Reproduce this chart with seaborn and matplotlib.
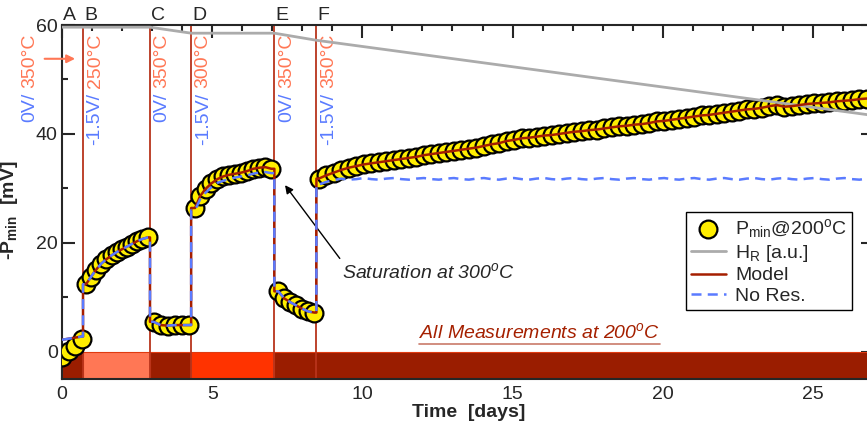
import numpy as np
import pandas as pd
import seaborn as sns
import matplotlib.pyplot as plt
from matplotlib.ticker import MultipleLocator

# condition switches (days) and labels of each step
switch_days = [0.70, 2.93, 4.30, 7.07, 8.47]
step_letters = ['A', 'B', 'C', 'D', 'E', 'F']
step_volts = ['0V/', '-1.5V/', '0V/', '-1.5V/', '0V/', '-1.5V/']
step_temps = ['350°C', '250°C', '350°C', '300°C', '350°C', '350°C']
label_x = [-1.08, 1.10, 3.33, 4.70, 7.47, 8.87]

# anneal temperature bands along the bottom
band_start = [0.0, 0.70, 2.93, 4.30, 7.07]
band_end = [0.70, 2.93, 4.30, 7.07, 27.0]
band_colors = ['#9A1D00', '#FF7755', '#9A1D00', '#FF3300', '#9A1D00']

# measured -Pmin (mV) per step
days_a = [0.00, 0.22, 0.44, 0.66]
pmin_a = [-0.9, 0.1, 1.0, 2.4]
model_a = [2.2, 2.4, 2.6, 2.8]

days_b = [0.80, 0.97, 1.14, 1.31, 1.48, 1.65, 1.82, 1.99, 2.16, 2.33, 2.50, 2.67, 2.86]
pmin_b = [12.4, 13.8, 15.1, 16.2, 17.0, 17.7, 18.3, 18.8, 19.3, 19.8, 20.3, 20.7, 21.0]

days_c = [3.05, 3.28, 3.52, 3.76, 4.00, 4.22]
pmin_c = [5.5, 4.9, 4.8, 4.9, 4.9, 4.9]

days_d = [4.43, 4.60, 4.78, 4.97, 5.17, 5.37, 5.57, 5.77, 5.97, 6.17, 6.37, 6.57, 6.77, 6.97]
pmin_d = [26.4, 28.6, 29.9, 30.9, 31.7, 32.2, 32.5, 32.7, 32.9, 33.2, 33.6, 33.8, 33.9, 33.6]
nores_d = [26.0, 28.0, 29.2, 30.2, 31.0, 31.4, 31.7, 32.0, 32.2, 32.4, 32.7, 32.9, 33.0, 32.8]

days_e = [7.20, 7.40, 7.60, 7.80, 8.00, 8.20, 8.40]
pmin_e = [11.1, 9.8, 9.1, 8.5, 7.9, 7.4, 7.2]

days_f = np.linspace(8.55, 26.80, 74)  # one reading every 6 h
pmin_f = [31.8, 32.4, 32.9, 33.4, 33.8, 34.1, 34.4, 34.6, 34.8, 35.0,
          35.2, 35.4, 35.6, 35.8, 36.1, 36.3, 36.5, 36.7, 36.9, 37.1,
          37.3, 37.5, 37.8, 38.1, 38.3, 38.7, 38.9, 39.2, 39.3, 39.5,
          39.7, 39.8, 40.0, 40.2, 40.4, 40.5, 40.7, 40.8, 41.0, 41.2,
          41.4, 41.5, 41.7, 41.8, 42.0, 42.3, 42.4, 42.6, 42.8, 43.0,
          43.2, 43.4, 43.5, 43.7, 43.9, 44.1, 44.3, 44.5, 44.6, 44.8,
          45.1, 45.3, 45.0, 45.1, 45.3, 45.5, 45.6, 45.7, 45.8, 46.0,
          46.1, 46.2, 46.4, 46.5]
nores_f = [30.7, 31.2, 31.5, 31.8, 31.6, 31.7, 31.9, 31.7, 31.6, 31.8,
           31.9, 31.7, 31.6, 31.8, 31.9, 31.7, 31.6, 31.8, 31.9, 31.7,
           31.6, 31.8, 31.9, 31.7, 31.6, 31.8, 31.9, 31.7, 31.6, 31.8,
           31.9, 31.7, 31.6, 31.8, 31.9, 31.7, 31.6, 31.8, 31.9, 31.7,
           31.6, 31.8, 31.9, 31.7, 31.6, 31.8, 31.9, 31.7, 31.6, 31.8,
           31.9, 31.7, 31.6, 31.8, 31.9, 31.7, 31.6, 31.8, 31.9, 31.7,
           31.6, 31.8, 31.9, 31.7, 31.6, 31.8, 31.9, 31.7, 31.6, 31.8,
           31.9, 31.7, 31.6, 31.8]

# H_R (arbitrary units, drawn on the same scale)
hr_days = [0.0, 2.93, 4.30, 7.07, 8.47, 27.0]
hr_vals = [59.6, 59.6, 58.5, 58.5, 57.2, 43.4]

seg_days = [days_a, days_b, days_c, days_d, days_e, days_f]
seg_pmin = [pmin_a, pmin_b, pmin_c, pmin_d, pmin_e, pmin_f]
seg_model = [model_a, pmin_b, pmin_c, pmin_d, pmin_e, pmin_f]
seg_nores = [model_a, pmin_b, pmin_c, nores_d, pmin_e, nores_f]

meas = pd.DataFrame({'day': np.concatenate(seg_days), 'pmin': np.concatenate(seg_pmin)})
hr = pd.DataFrame({'day': hr_days, 'val': hr_vals})


def stepped(values):
    # join the segments with vertical jumps at the switch times
    rows = []
    for k, (d, v) in enumerate(zip(seg_days, values)):
        if k > 0:
            rows.append((switch_days[k - 1], values[k - 1][-1]))
            rows.append((switch_days[k - 1], v[0]))
        rows.extend(zip(d, v))
    return pd.DataFrame(rows, columns=['day', 'val'])


model = stepped(seg_model)
nores = stepped(seg_nores)

sns.set_style('ticks')
plt.rcParams['font.family'] = ['Liberation Sans', 'DejaVu Sans']
plt.rcParams['mathtext.fontset'] = 'custom'
plt.rcParams['mathtext.rm'] = 'Liberation Sans'
plt.rcParams['mathtext.it'] = 'Liberation Sans:italic'
plt.rcParams['mathtext.bf'] = 'Liberation Sans:bold'

salmon = '#FF7755'
blue = '#5A7BFF'

fig = plt.figure(figsize=(8.67, 4.32), dpi=100)
ax = fig.add_axes([0.0715, 0.1227, 0.9354, 0.8194])
ax.set_xlim(0, 27)
ax.set_ylim(-5, 60)

ax.bar(band_start, 5, width=np.subtract(band_end, band_start), bottom=-5, align='edge',
       color=band_colors, edgecolor='#E03A10', linewidth=0.8, zorder=1)
for d in switch_days:
    ax.axvline(d, color='#B8341B', lw=1.3, zorder=2)

sns.scatterplot(data=meas, x='day', y='pmin', s=165, color='#FFEE00', edgecolor='black',
                linewidth=1.6, ax=ax, zorder=4, label='P$_\\mathrm{min}$@200$^\\mathrm{o}$C')
sns.lineplot(data=hr, x='day', y='val', color='#ABABAB', lw=2, ax=ax, zorder=5,
             sort=False, estimator=None, label='H$_\\mathrm{R}$ [a.u.]')
sns.lineplot(data=model, x='day', y='val', color='#A51E00', lw=1.8, ax=ax, zorder=6,
             sort=False, estimator=None, label='Model')
sns.lineplot(data=nores, x='day', y='val', color=blue, lw=1.8, ax=ax, zorder=7,
             sort=False, estimator=None, linestyle=(0, (4, 2.5)), label='No Res.')

# letters and conditions of each step
for d, letter in zip([0.0] + switch_days, step_letters):
    ax.annotate(letter, xy=(d, 1), xycoords=('data', 'axes fraction'), xytext=(1, 0.5),
                textcoords='offset points', ha='left', va='bottom', fontsize=14)
for x, v, t in zip(label_x, step_volts, step_temps):
    tt = ax.text(x, 58.5, t, rotation=90, ha='center', va='top', color=salmon,
                 fontsize=14, clip_on=False)
    ax.annotate(v, xy=(0.5, 0), xycoords=tt, xytext=(0, -4), textcoords='offset points',
                rotation=90, ha='center', va='top', color=blue, fontsize=14)
ax.annotate('', xy=(0.53, 53.8), xytext=(-0.67, 53.8), annotation_clip=False,
            arrowprops=dict(arrowstyle='-|>', color=salmon, lw=1.5, mutation_scale=12))

ax.annotate('Saturation at 300$^o$C', xy=(7.37, 31.0), xytext=(9.33, 14.7), ha='left',
            va='center', fontsize=14, fontstyle='italic',
            arrowprops=dict(arrowstyle='-|>', color='black', lw=1, relpos=(0, 1),
                            shrinkA=0, shrinkB=2, mutation_scale=12))
meas_txt = ax.text(15.9, 3.6, 'All Measurements at 200$^o$C', ha='center', va='center',
                   fontsize=14, fontstyle='italic', color='#A52000')

ax.set_xlabel('Time  [days]', fontsize=14, fontweight='bold')
ax.set_ylabel('-P$_\\mathbf{min}$  [mV]', fontsize=14, fontweight='bold')
ax.xaxis.set_label_coords(0.502, -0.07)
ax.yaxis.set_label_coords(-0.052, 0.477)

ax.xaxis.set_major_locator(MultipleLocator(5))
ax.xaxis.set_minor_locator(MultipleLocator(1))
ax.yaxis.set_major_locator(MultipleLocator(20))
ax.yaxis.set_minor_locator(MultipleLocator(10))
ax.tick_params(which='both', direction='in', top=True, right=True, width=1.5, labelsize=14)
ax.tick_params(which='major', length=9)
ax.tick_params(which='minor', length=4.5)
ax.tick_params(axis='y', pad=3)
ax.tick_params(axis='x', pad=5)
for sp in ax.spines.values():
    sp.set_linewidth(1.5)

handles, labels = ax.get_legend_handles_labels()
leg = ax.legend(handles, labels, loc='upper left', bbox_to_anchor=(0.791, 0.509),
                bbox_transform=fig.transFigure, fontsize=14, frameon=True, fancybox=False,
                framealpha=1, edgecolor='black', borderpad=0.25, labelspacing=0.15,
                handlelength=1.8, handletextpad=0.5, borderaxespad=0)
leg.get_frame().set_linewidth(1.0)
leg.set_zorder(10)

# underline for the measurement note
fig.canvas.draw()
bb = meas_txt.get_window_extent().transformed(ax.transData.inverted())
ax.plot([bb.x0, bb.x1], [bb.y0 - 0.3] * 2, color='#C97A6A', lw=1.2, zorder=3)

fig.savefig('out.png', dpi=100)
